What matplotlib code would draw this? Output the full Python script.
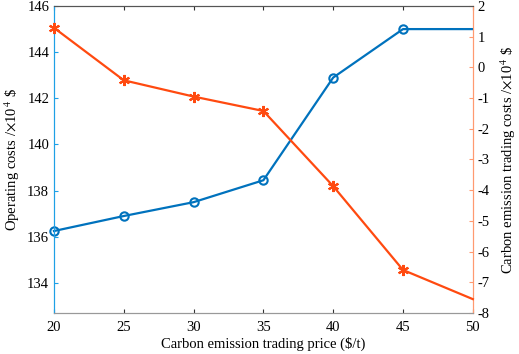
import numpy as np
import matplotlib
matplotlib.use('Agg')
import matplotlib.pyplot as plt

# carbon price vs. costs
price = [20, 25, 30, 35, 40, 45, 50]
operating_cost = [136.25, 136.9, 137.5, 138.45, 142.9, 145.0, 145.0]
trading_cost = [1.29, -0.42, -0.95, -1.42, -3.87, -6.6, -7.55]

xticks = [20, 25, 30, 35, 40, 45, 50]
left_ticks = [134, 136, 138, 140, 142, 144, 146]
right_ticks = [-8, -7, -6, -5, -4, -3, -2, -1, 0, 1, 2]

BLUE = '#0072BD'
ORANGE = '#FF4A10'
LBLUE = '#1EA0E6'
LORANGE = '#FF9A70'

plt.rcParams['font.family'] = ['Liberation Serif', 'DejaVu Serif']
plt.rcParams['mathtext.fontset'] = 'stix'
plt.rcParams['font.size'] = 10
plt.rcParams['axes.unicode_minus'] = False

fig = plt.figure(figsize=(5.19, 3.54), dpi=100)
ax = fig.add_axes([0.104, 0.116, 0.807, 0.867])
ax2 = ax.twinx()

ax.plot(price, operating_cost, color=BLUE, lw=1.6, marker='o', ms=6,
        mfc='none', mew=1.5, markevery=list(range(6)), clip_on=False, zorder=3)
ax2.plot(price, trading_cost, color=ORANGE, lw=1.6, marker=(6, 2, 0), ms=8,
         mew=1.5, markevery=list(range(6)), clip_on=False, zorder=3)

ax.set_xlim(20, 50)
ax.set_ylim(132.7, 146)
ax2.set_ylim(-8, 2)
ax.set_xticks(xticks)
ax.set_yticks(left_ticks)
ax2.set_yticks(right_ticks)

ax.tick_params(axis='x', direction='in', top=True, length=3, colors='#333333',
               labelcolor='black', pad=6, labelsize=10.5)
ax.tick_params(axis='y', direction='in', length=3, colors=LBLUE, labelcolor='black',
               labelsize=10.5)
ax2.tick_params(axis='y', direction='in', length=3, colors=LORANGE, labelcolor='black',
                labelsize=10.5)

for a in (ax, ax2):
    a.spines['left'].set_color(LBLUE)
    a.spines['right'].set_color(LORANGE)
    a.spines['top'].set_color('#555555')
    a.spines['bottom'].set_color('#999999')
    a.spines['top'].set_linewidth(0.8)

ax.set_xlabel(r'Carbon emission trading price (\$/t)', labelpad=2, fontsize=10.5)
ax.set_ylabel(r'Operating costs /$\times$10$^{\,4}$ \$', labelpad=4, fontsize=10.5)
ax2.set_ylabel(r'Carbon emission trading costs /$\times$10$^{\,4}$ \$', labelpad=6,
               fontsize=10.5)

fig.savefig('out.png', dpi=100)
